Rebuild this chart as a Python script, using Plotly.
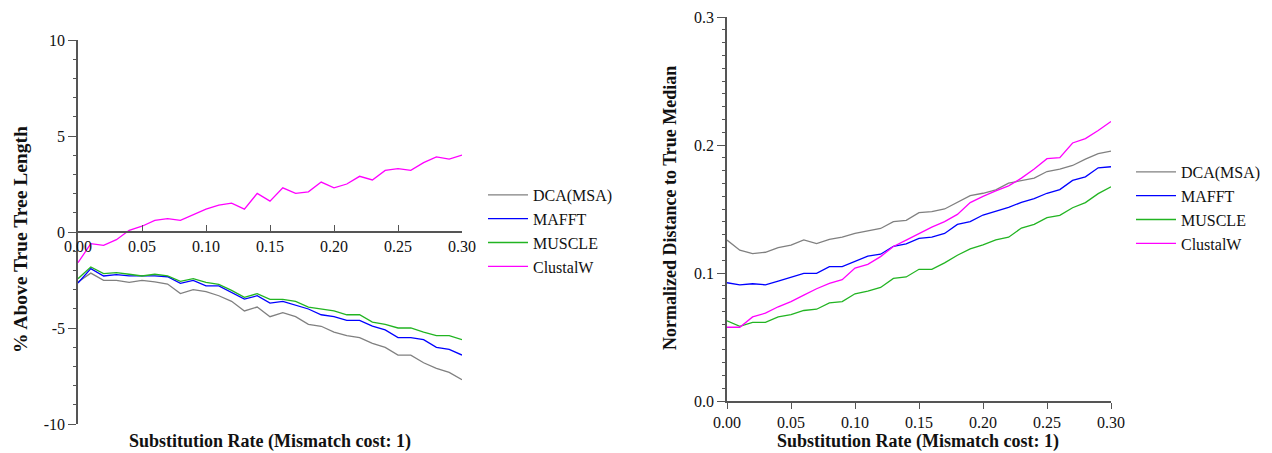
import plotly.graph_objects as go

W, H = 1272, 453

rates = [round(i * 0.01, 2) for i in range(31)]
series_names = ["DCA(MSA)", "MAFFT", "MUSCLE", "ClustalW"]
series_colors = ["#808080", "#0000ff", "#22b422", "#ff00ff"]

# Left panel: % above true tree length
tree_dca = [-2.6, -2.14, -2.52, -2.52, -2.62, -2.52, -2.60, -2.71, -3.21, -3.00, -3.11,
            -3.32, -3.61, -4.11, -3.91, -4.41, -4.20, -4.41, -4.81, -4.91, -5.21,
            -5.40, -5.50, -5.80, -6.01, -6.41, -6.41, -6.81, -7.10, -7.31, -7.69]
tree_mafft = [-2.66, -1.91, -2.29, -2.22, -2.29, -2.29, -2.29, -2.33, -2.67, -2.52, -2.81,
              -2.81, -3.13, -3.49, -3.32, -3.70, -3.61, -3.82, -4.01, -4.31, -4.41,
              -4.60, -4.60, -4.90, -5.10, -5.50, -5.50, -5.61, -6.01, -6.11, -6.41]
tree_muscle = [-2.43, -1.82, -2.17, -2.12, -2.20, -2.29, -2.20, -2.29, -2.57, -2.43, -2.62,
               -2.73, -3.04, -3.40, -3.21, -3.51, -3.51, -3.61, -3.91, -4.01, -4.11,
               -4.31, -4.31, -4.69, -4.81, -5.00, -5.00, -5.21, -5.40, -5.40, -5.61]
tree_clustalw = [-1.6, -0.61, -0.70, -0.40, 0.09, 0.30, 0.61, 0.70, 0.61, 0.91, 1.19,
                 1.40, 1.50, 1.19, 2.01, 1.61, 2.30, 2.01, 2.09, 2.60, 2.30,
                 2.50, 2.90, 2.71, 3.21, 3.30, 3.21, 3.61, 3.91, 3.80, 4.01]

# Right panel: normalized distance to true median
med_dca = [0.1257, 0.1178, 0.1152, 0.1162, 0.1199, 0.1217, 0.1259, 0.1230, 0.1262, 0.1280, 0.1309,
           0.1330, 0.1348, 0.1401, 0.1411, 0.1471, 0.1479, 0.1500, 0.1552, 0.1605, 0.1623,
           0.1649, 0.1702, 0.1723, 0.1741, 0.1793, 0.1812, 0.1840, 0.1890, 0.1932, 0.1953]
med_mafft = [0.0924, 0.0908, 0.0916, 0.0908, 0.0937, 0.0969, 0.0997, 0.0997, 0.1050, 0.1050, 0.1092,
             0.1131, 0.1147, 0.1209, 0.1228, 0.1270, 0.1280, 0.1309, 0.1380, 0.1401, 0.1453,
             0.1484, 0.1513, 0.1552, 0.1581, 0.1623, 0.1652, 0.1723, 0.1751, 0.1822, 0.1830]
med_muscle = [0.0626, 0.0584, 0.0615, 0.0615, 0.0657, 0.0675, 0.0707, 0.0717, 0.0767, 0.0777, 0.0838,
              0.0859, 0.0887, 0.0958, 0.0969, 0.1029, 0.1029, 0.1079, 0.1139, 0.1188, 0.1220,
              0.1259, 0.1280, 0.1351, 0.1380, 0.1432, 0.1450, 0.1510, 0.1550, 0.1620, 0.1673]
med_clustalw = [0.0576, 0.0576, 0.0657, 0.0686, 0.0736, 0.0777, 0.0827, 0.0877, 0.0919, 0.0948, 0.1039,
                0.1068, 0.1128, 0.1207, 0.1257, 0.1309, 0.1359, 0.1401, 0.1458, 0.1550, 0.1599,
                0.1641, 0.1681, 0.1741, 0.1812, 0.1893, 0.1901, 0.2016, 0.2050, 0.2113, 0.2183]

x_tickvals = [0.0, 0.05, 0.10, 0.15, 0.20, 0.25, 0.30]
x_ticktext = ["0.00", "0.05", "0.10", "0.15", "0.20", "0.25", "0.30"]
left_y_tickvals = [-10, -5, 0, 5, 10]
left_y_ticktext = ["-10", "-5", "0", "5", "10"]
right_y_tickvals = [0.0, 0.1, 0.2, 0.3]
right_y_ticktext = ["0.0", "0.1", "0.2", "0.3"]

xtitle = "Substitution Rate (Mismatch cost: 1)"
left_ytitle = "% Above True Tree Length"
right_ytitle = "Normalized Distance to True Median"

FONT = "Liberation Serif, Times New Roman, serif"
AXC = "#555555"

fig = go.Figure()
left_data = [tree_dca, tree_mafft, tree_muscle, tree_clustalw]
right_data = [med_dca, med_mafft, med_muscle, med_clustalw]
for name, col, ys in zip(series_names, series_colors, left_data):
    fig.add_trace(go.Scatter(x=rates, y=ys, mode="lines", name=name,
                             line=dict(color=col, width=1.3),
                             xaxis="x", yaxis="y", legend="legend"))
for name, col, ys in zip(series_names, series_colors, right_data):
    fig.add_trace(go.Scatter(x=rates, y=ys, mode="lines", name=name,
                             line=dict(color=col, width=1.3),
                             xaxis="x2", yaxis="y2", legend="legend2"))

def px_x(p):
    return p / W

def px_y(p):
    return 1 - p / H

ldom_x = [px_x(78), px_x(462)]
ldom_y = [px_y(424), px_y(40)]
rdom_x = [px_x(727), px_x(1111)]
rdom_y = [px_y(401), px_y(17)]

tickfont = dict(family=FONT, size=16, color="#111111")

fig.update_layout(
    width=W, height=H,
    margin=dict(l=0, r=0, t=0, b=0, autoexpand=False),
    paper_bgcolor="white", plot_bgcolor="white",
    font=dict(family=FONT, size=16, color="#111111"),
    xaxis=dict(domain=ldom_x, range=[0, 0.30], anchor="free",
               position=(ldom_y[0] + ldom_y[1]) / 2, automargin=False,
               tickmode="array", tickvals=x_tickvals, ticktext=x_ticktext,
               ticks="inside", ticklen=6, tickwidth=1.2, tickcolor=AXC,
               showline=True, linecolor=AXC, linewidth=1.5,
               showgrid=False, zeroline=False, tickfont=tickfont),
    yaxis=dict(domain=ldom_y, range=[-10, 10], anchor="x", automargin=False,
               tickmode="array", tickvals=left_y_tickvals, ticktext=left_y_ticktext,
               ticks="outside", ticklen=8, tickwidth=1.2, tickcolor=AXC,
               minor=dict(dtick=1, ticks="outside", ticklen=3, tickcolor=AXC, tickwidth=1.2, showgrid=False),
               showline=True, linecolor=AXC, linewidth=1.5,
               showgrid=False, zeroline=False, tickfont=tickfont),
    xaxis2=dict(domain=rdom_x, range=[0, 0.30], anchor="y2", automargin=False,
                tickmode="array", tickvals=x_tickvals, ticktext=x_ticktext,
                ticks="outside", ticklen=6, tickwidth=1.2, tickcolor=AXC,
                showline=True, linecolor=AXC, linewidth=1.5,
                showgrid=False, zeroline=False, tickfont=tickfont),
    yaxis2=dict(domain=rdom_y, range=[0, 0.3], anchor="x2", automargin=False,
                tickmode="array", tickvals=right_y_tickvals, ticktext=right_y_ticktext,
                ticks="outside", ticklen=8, tickwidth=1.2, tickcolor=AXC,
                minor=dict(dtick=0.01, ticks="outside", ticklen=3, tickcolor=AXC, tickwidth=1.2, showgrid=False),
                showline=True, linecolor=AXC, linewidth=1.5,
                showgrid=False, zeroline=False, tickfont=tickfont),
    legend=dict(x=px_x(483), y=px_y(178), xanchor="left", yanchor="top",
                font=dict(family=FONT, size=16, color="#111111"), itemwidth=40,
                bgcolor="rgba(0,0,0,0)", tracegroupgap=0),
    legend2=dict(x=px_x(1131), y=px_y(155), xanchor="left", yanchor="top",
                 font=dict(family=FONT, size=16, color="#111111"), itemwidth=40,
                 bgcolor="rgba(0,0,0,0)", tracegroupgap=0),
    showlegend=True,
)

fig.add_annotation(text="<b>%s</b>" % xtitle, x=px_x(270), y=px_y(441), xref="paper", yref="paper",
                   showarrow=False, font=dict(family=FONT, size=18, color="#111111"),
                   xanchor="center", yanchor="middle")
fig.add_annotation(text="<b>%s</b>" % xtitle, x=px_x(918), y=px_y(441), xref="paper", yref="paper",
                   showarrow=False, font=dict(family=FONT, size=18, color="#111111"),
                   xanchor="center", yanchor="middle")
fig.add_annotation(text="<b>%s</b>" % left_ytitle, x=px_x(20), y=px_y(240), xref="paper", yref="paper",
                   showarrow=False, font=dict(family=FONT, size=19.5, color="#111111"),
                   textangle=-90, xanchor="center", yanchor="middle")
fig.add_annotation(text="<b>%s</b>" % right_ytitle, x=px_x(670), y=px_y(208), xref="paper", yref="paper",
                   showarrow=False, font=dict(family=FONT, size=18, color="#111111"),
                   textangle=-90, xanchor="center", yanchor="middle")

fig.write_html("out.html")
